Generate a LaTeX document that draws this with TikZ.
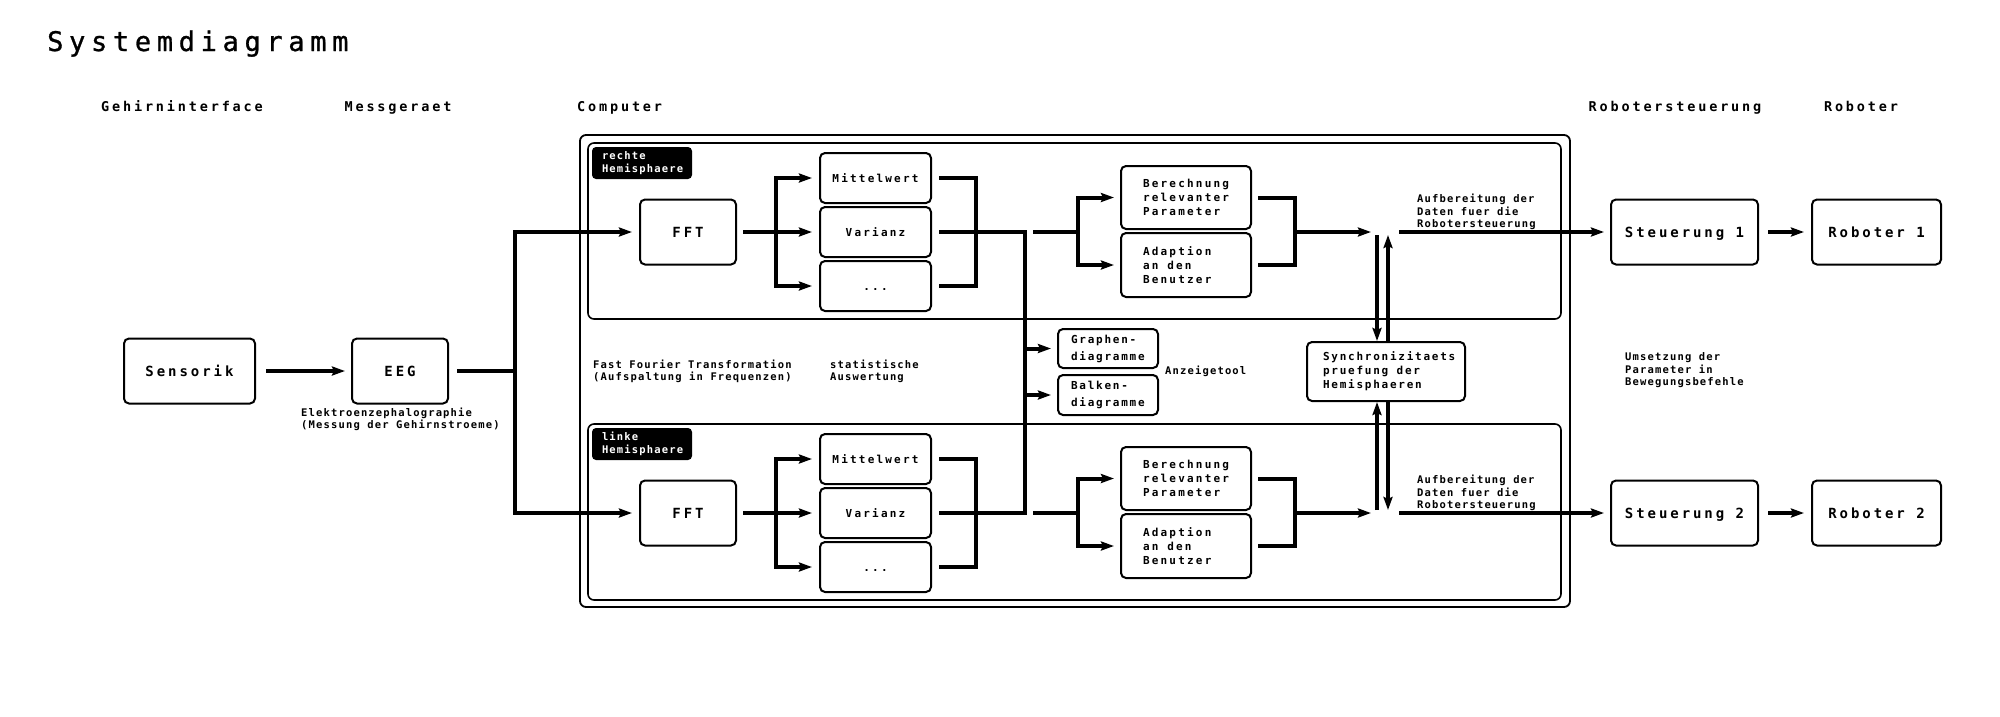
\documentclass[tikz,border=0pt]{standalone}
\usepackage{fontspec}
\setmainfont{DejaVu Sans Mono}
\newfontfamily\dmT[LetterSpace=21,FakeBold=1]{DejaVu Sans Mono}
\newfontfamily\dmA[LetterSpace=21]{DejaVu Sans Mono Bold}
\newfontfamily\dmM[LetterSpace=20]{DejaVu Sans Mono Bold}
\newfontfamily\dmB[LetterSpace=16]{DejaVu Sans Mono Bold}
\newfontfamily\dmC[LetterSpace=11]{DejaVu Sans Mono Bold}
\usetikzlibrary{arrows.meta}
\newcommand\fTitle{\dmT\fontsize{27}{30}\selectfont}
\newcommand\fHead{\dmA\fontsize{13.5}{16}\selectfont}
\newcommand\fBig{\dmA\fontsize{14}{17}\selectfont}
\newcommand\fMid{\dmM\fontsize{11}{14}\selectfont}
\newcommand\fMidB{\dmB\fontsize{11}{14}\selectfont}
\newcommand\fSmall{\dmC\fontsize{10.5}{12.5}\selectfont}
\newcommand\nsp{\spaceskip=0pt\xspaceskip=0pt\relax}
\tikzset{
  boxline/.style={draw, line width=2pt, rounded corners=5pt},
  bigbox/.style={boxline, inner sep=0pt, font=\fBig, text height=10.2pt, text depth=0pt, minimum height=65pt},
  midbox/.style={boxline, inner sep=0pt, font=\fMid, text height=8pt, text depth=0pt, minimum width=111pt, minimum height=50pt},
  leftbox/.style={boxline, inner ysep=0pt, align=left, font=\fMid},
  leftboxB/.style={boxline, inner ysep=0pt, align=left, font=\fMidB},
  container/.style={draw, line width=1.8pt, rounded corners=6pt, inner sep=0pt},
  hemlabel/.style={fill=black, rounded corners=4pt, text=white, font=\fSmall, align=left, inner xsep=10pt, inner ysep=0pt, text width=80pt, minimum height=32pt},
  heading/.style={font=\fHead, inner sep=0pt},
  smalltext/.style={font=\fSmall, align=left, inner sep=0pt},
  conn/.style={line width=4pt},
  arr/.style={conn, -{Stealth[length=13pt,width=9pt,inset=2pt]}},
}
\begin{document}
\begin{tikzpicture}[x=1pt,y=-1pt]
\fill[white] (0,0) rectangle (2000,716);
\useasboundingbox (0,0) rectangle (2000,716);

% title and headings
\node[font=\fTitle, inner sep=0pt, anchor=base west] (title) at (47,51) {Systemdiagramm};
\node[heading, anchor=base] (hGI) at (182,111) {Gehirninterface};
\node[heading, anchor=base] (hMG) at (398,111) {Messgeraet};
\node[heading, anchor=base west] (hCO) at (577,111) {Computer};
\node[heading, anchor=base] (hRS) at (1675,111) {Robotersteuerung};
\node[heading, anchor=base] (hRO) at (1861,111) {Roboter};

% containers
\node[container, minimum width=990pt, minimum height=472pt] (comp) at (1075,371) {};
\node[container, line width=1.6pt, minimum width=973pt, minimum height=176pt] (rh) at (1074.5,231) {};
\node[container, line width=1.6pt, minimum width=973pt, minimum height=176pt] (lh) at (1074.5,512) {};
\node[hemlabel] (rlab) at (642,163) {rechte\\Hemisphaere};
\node[hemlabel] (llab) at (642,444) {linke\\Hemisphaere};

% input side
\node[bigbox, minimum width=131pt] (sens) at (189.5,371) {Sensorik};
\node[bigbox, minimum width=96pt] (eeg) at (400,371) {EEG};
\node[smalltext, anchor=west] (eegl) at (301,419.5) {Elektroenzephalographie\\(Messung der Gehirnstroeme)};
\draw[arr, shorten <=10pt, shorten >=6pt] (sens) -- (eeg);
\coordinate (b0) at (515,371);
\draw[conn, shorten <=8pt] (eeg) -- (b0);

% FFT boxes
\node[bigbox, minimum width=96pt] (fft1) at (688,232) {FFT};
\node[bigbox, minimum width=96pt] (fft2) at (688,513) {FFT};
\draw[arr, shorten >=7pt] (b0) |- (fft1);
\draw[arr, shorten >=7pt] (b0) |- (fft2);

% statistics boxes
\node[midbox] (mw1) at (875.5,178) {Mittelwert};
\node[midbox] (var1) at (875.5,232) {Varianz};
\node[midbox] (dot1) at (875.5,286) {...};
\node[midbox] (mw2) at (875.5,459) {Mittelwert};
\node[midbox] (var2) at (875.5,513) {Varianz};
\node[midbox] (dot2) at (875.5,567) {...};

\coordinate (br1) at (776,232);
\coordinate (br2) at (776,513);
\draw[conn, shorten <=6pt] (fft1) -- (br1);
\draw[conn, shorten <=6pt] (fft2) -- (br2);
\foreach \n in {mw1,var1,dot1} \draw[arr, shorten >=7pt] (br1) |- (\n);
\foreach \n in {mw2,var2,dot2} \draw[arr, shorten >=7pt] (br2) |- (\n);

\coordinate (j1) at (976,232);
\coordinate (j2) at (976,513);
\draw[conn, shorten <=7pt] (mw1) -| (j1);
\draw[conn, shorten <=7pt] (dot1) -| (j1);
\draw[conn, shorten <=7pt] (mw2) -| (j2);
\draw[conn, shorten <=7pt] (dot2) -| (j2);

% bus to display tools
\coordinate (busT) at (1025,232);
\coordinate (busB) at (1025,513);
\draw[conn, shorten <=7pt, shorten >=7pt] (var1) -- (busT) -- (busB) -- (var2);

\node[leftboxB, text width=74pt, inner xsep=13pt, minimum height=39pt, font=\fMidB\fontsize{11}{17}\selectfont] (graph) at (1108,348.5) {Graphen-\\diagramme};
\node[leftboxB, text width=74pt, inner xsep=13pt, minimum height=40pt, font=\fMidB\fontsize{11}{17}\selectfont] (balk) at (1108,395) {Balken-\\diagramme};
\draw[arr, shorten >=6pt] (graph.west -| busT) -- (graph.west);
\draw[arr, shorten >=6pt] (balk.west -| busT) -- (balk.west);
\node[smalltext, anchor=west] (anz) at (1165,371) {Anzeigetool};

\node[smalltext, anchor=west] (fftl) at (593,371.5) {Fast Fourier Transformation\\(Aufspaltung in Frequenzen)};
\node[smalltext, anchor=west] (statl) at (830,371.5) {statistische\\Auswertung};

% parameter boxes
\coordinate (gA1) at (1033,232);
\coordinate (gA2) at (1033,513);
\coordinate (bB1) at (1078,232);
\coordinate (bB2) at (1078,513);
\draw[conn] (gA1) -- (bB1);
\draw[conn] (gA2) -- (bB2);
\node[leftbox, text width=86pt, inner xsep=22pt, minimum height=63pt] (ber1) at (1186,197.5) {\nsp Berechnung\\relevanter\\Parameter};
\node[leftbox, text width=86pt, inner xsep=22pt, minimum height=64pt] (ada1) at (1186,265) {\nsp Adaption\\an den\\Benutzer};
\node[leftbox, text width=86pt, inner xsep=22pt, minimum height=63pt] (ber2) at (1186,478.5) {\nsp Berechnung\\relevanter\\Parameter};
\node[leftbox, text width=86pt, inner xsep=22pt, minimum height=64pt] (ada2) at (1186,546) {\nsp Adaption\\an den\\Benutzer};
\draw[arr, shorten >=6pt] (bB1) |- (ber1);
\draw[arr, shorten >=6pt] (bB1) |- (ada1);
\draw[arr, shorten >=6pt] (bB2) |- (ber2);
\draw[arr, shorten >=6pt] (bB2) |- (ada2);

\coordinate (jB1) at (1295,232);
\coordinate (jB2) at (1295,513);
\draw[conn, shorten <=6pt] (ber1) -| (jB1);
\draw[conn, shorten <=6pt] (ada1) -| (jB1);
\draw[conn, shorten <=6pt] (ber2) -| (jB2);
\draw[conn, shorten <=6pt] (ada2) -| (jB2);
\coordinate (tA1) at (1371,232);
\coordinate (tA2) at (1371,513);
\draw[arr] (jB1) -- (tA1);
\draw[arr] (jB2) -- (tA2);

% synchronisation
\node[leftboxB, text width=126pt, inner xsep=16pt, minimum height=59pt] (sync) at (1386,371.5) {\nsp Synchronizitaets\\pruefung der\\Hemisphaeren};
\coordinate (vL1) at (1377,235);
\coordinate (vR1) at (1388,235);
\coordinate (vL2) at (1377,510);
\coordinate (vR2) at (1388,510);
\draw[arr] (vL1) -- (vL1 |- sync.north);
\draw[arr] (vR1 |- sync.north) -- (vR1);
\draw[arr] (vL2) -- (vL2 |- sync.south);
\draw[arr] (vR2 |- sync.south) -- (vR2);

% robot control
\coordinate (gB1) at (1399,232);
\coordinate (gB2) at (1399,513);
\node[smalltext, anchor=west] (aufl1) at (1417,212) {Aufbereitung der\\Daten fuer die\\Robotersteuerung};
\node[smalltext, anchor=west] (aufl2) at (1417,493) {Aufbereitung der\\Daten fuer die\\Robotersteuerung};
\node[bigbox, minimum width=147pt] (st1) at (1684.5,232) {Steuerung 1};
\node[bigbox, minimum width=147pt] (st2) at (1684.5,513) {Steuerung 2};
\node[bigbox, minimum width=129pt] (rob1) at (1876.5,232) {Roboter 1};
\node[bigbox, minimum width=129pt] (rob2) at (1876.5,513) {Roboter 2};
\draw[arr, shorten >=6pt] (gB1) -- (st1);
\draw[arr, shorten >=6pt] (gB2) -- (st2);
\draw[arr, shorten <=9pt, shorten >=7pt] (st1) -- (rob1);
\draw[arr, shorten <=9pt, shorten >=7pt] (st2) -- (rob2);
\node[smalltext, anchor=west] (ums) at (1625,370.5) {Umsetzung der\\Parameter in\\Bewegungsbefehle};
\end{tikzpicture}
\end{document}
